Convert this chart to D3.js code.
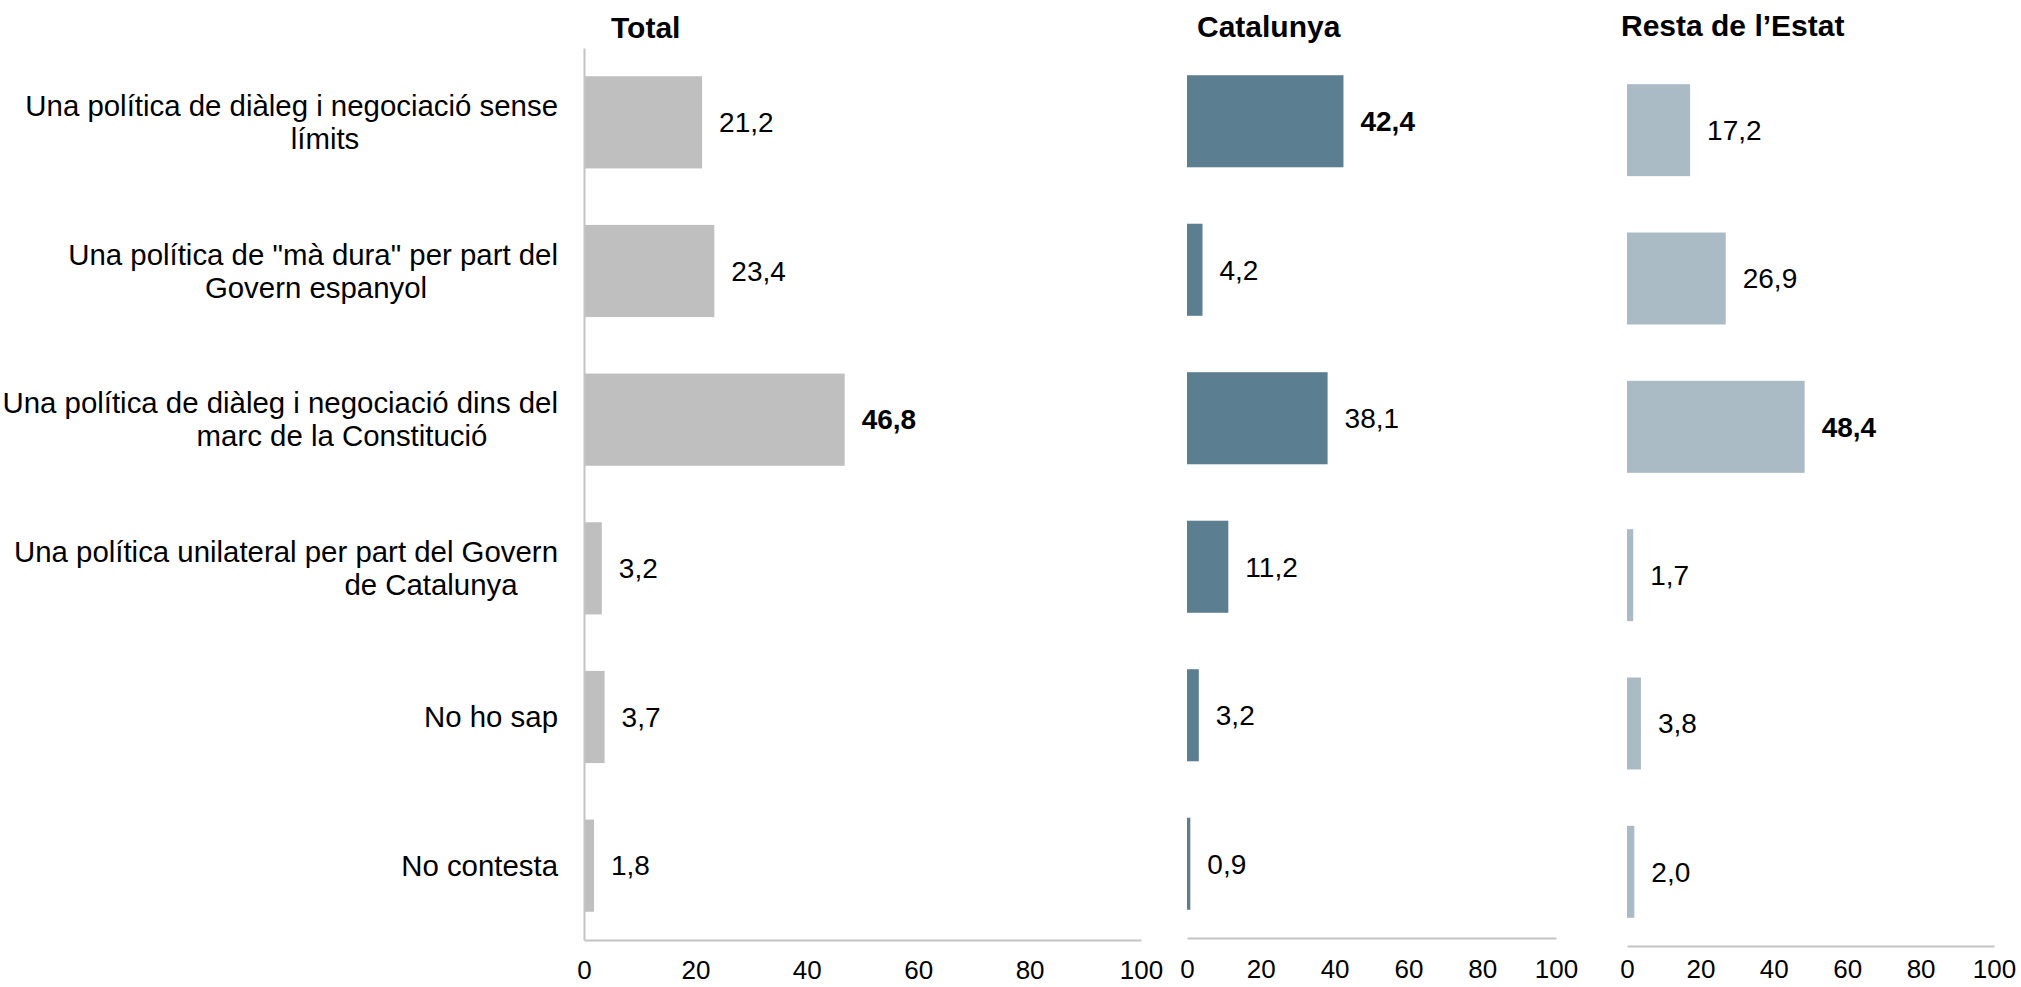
<!DOCTYPE html>
<html>
<head>
<meta charset="utf-8">
<script src="https://cdn.jsdelivr.net/npm/d3@7"></script>
<style>
  html, body { margin: 0; padding: 0; background: #fff; }
  svg { display: block; font-family: "Liberation Sans", Arial, sans-serif; }
</style>
</head>
<body>
<svg id="chart" width="2021" height="987"></svg>
<script>
// ---- data ----
const categories = [
  "Una política de diàleg i negociació sense límits",
  "Una política de \"mà dura\" per part del Govern espanyol",
  "Una política de diàleg i negociació dins del marc de la Constitució",
  "Una política unilateral per part del Govern de Catalunya",
  "No ho sap",
  "No contesta"
];
const categoryLines = [
  ["Una política de diàleg i negociació sense", "límits"],
  ["Una política de \"mà dura\" per part del", "Govern espanyol"],
  ["Una política de diàleg i negociació dins del", "marc de la Constitució"],
  ["Una política unilateral per part del Govern", "de Catalunya"],
  ["No ho sap"],
  ["No contesta"]
];
const panelTitles = ["Total", "Catalunya", "Resta de l\u2019Estat"];
const totalValues = [21.2, 23.4, 46.8, 3.2, 3.7, 1.8];
const catalunyaValues = [42.4, 4.2, 38.1, 11.2, 3.2, 0.9];
const restaValues = [17.2, 26.9, 48.4, 1.7, 3.8, 2.0];
const tickValues = [0, 20, 40, 60, 80, 100];

// ---- layout ----
const secondLineCenter = [325, 316, 342, 431]; // x centre of wrapped second lines
const panels = [
  { title: panelTitles[0], values: totalValues, color: "#bfbfbf", x0: 584, x1: 1141, y0: 48, y1: 940, tx: 611, ty: 38, vaxis: true, pad: 21 },
  { title: panelTitles[1], values: catalunyaValues, color: "#5b7e91", x0: 1187, x1: 1556, y0: 47, y1: 938, tx: 1197, ty: 37, vaxis: false, pad: 22 },
  { title: panelTitles[2], values: restaValues, color: "#abbbc6", x0: 1627, x1: 1994, y0: 56, y1: 946, tx: 1621, ty: 36, vaxis: false, pad: 14 }
];

const svg = d3.select("#chart");
const locale = d3.formatLocale({ decimal: ",", thousands: ".", grouping: [3], currency: ["", "€"] });
const fmt = locale.format(".1f");

panels.forEach((p, pi) => {
  const x = d3.scaleLinear().domain([0, 100]).range([p.x0, p.x1]);
  const y = d3.scaleBand().domain(categories).range([p.y0, p.y1]).paddingInner(0.38).paddingOuter(0.19);
  const g = svg.append("g");
  const maxV = d3.max(p.values);

  // bars
  g.selectAll("rect.bar").data(p.values).join("rect")
    .attr("class", "bar")
    .attr("x", x(0))
    .attr("y", (d, i) => y(categories[i]))
    .attr("width", d => x(d) - x(0))
    .attr("height", y.bandwidth())
    .attr("fill", p.color);

  // value labels
  g.selectAll("text.val").data(p.values).join("text")
    .attr("class", "val")
    .attr("x", d => x(d) + 17)
    .attr("y", (d, i) => y(categories[i]) + y.bandwidth() / 2)
    .attr("dy", "0.35em")
    .attr("font-size", 28)
    .attr("font-weight", d => d === maxV ? "bold" : "normal")
    .attr("fill", "#000")
    .text(d => fmt(d));

  // x axis
  const ax = g.append("g")
    .attr("transform", `translate(0,${p.y1})`)
    .call(d3.axisBottom(x).tickValues(tickValues).tickSize(0).tickSizeOuter(0).tickPadding(p.pad).tickFormat(d3.format("d")));
  ax.select(".domain").attr("stroke", "#c4c4c4").attr("stroke-width", 2);
  ax.selectAll("text").attr("font-size", 26).attr("fill", "#000").attr("font-family", "\"Liberation Sans\", Arial, sans-serif");

  // vertical axis (Total only)
  if (p.vaxis) {
    const ay = g.append("g")
      .attr("transform", `translate(${p.x0},0)`)
      .call(d3.axisLeft(y).tickSize(0).tickSizeOuter(0).tickFormat(""));
    ay.select(".domain").attr("stroke", "#c4c4c4").attr("stroke-width", 2);

    // category labels
    categoryLines.forEach((lines, i) => {
      const cy = y(categories[i]) + y.bandwidth() / 2;
      if (lines.length === 1) {
        g.append("text")
          .attr("x", p.x0 - 26).attr("y", cy).attr("dy", "0.35em")
          .attr("text-anchor", "end").attr("font-size", 29.4).attr("fill", "#000")
          .text(lines[0]);
      } else {
        g.append("text")
          .attr("x", p.x0 - 26).attr("y", cy - 16.5).attr("dy", "0.35em")
          .attr("text-anchor", "end").attr("font-size", 29.4).attr("fill", "#000")
          .text(lines[0]);
        g.append("text")
          .attr("x", secondLineCenter[i]).attr("y", cy + 16.5).attr("dy", "0.35em")
          .attr("text-anchor", "middle").attr("font-size", 29.4).attr("fill", "#000")
          .text(lines[1]);
      }
    });
  }

  // panel title
  g.append("text")
    .attr("x", p.tx).attr("y", p.ty)
    .attr("font-size", 30).attr("font-weight", "bold").attr("fill", "#000")
    .text(p.title);
});
</script>
</body>
</html>
